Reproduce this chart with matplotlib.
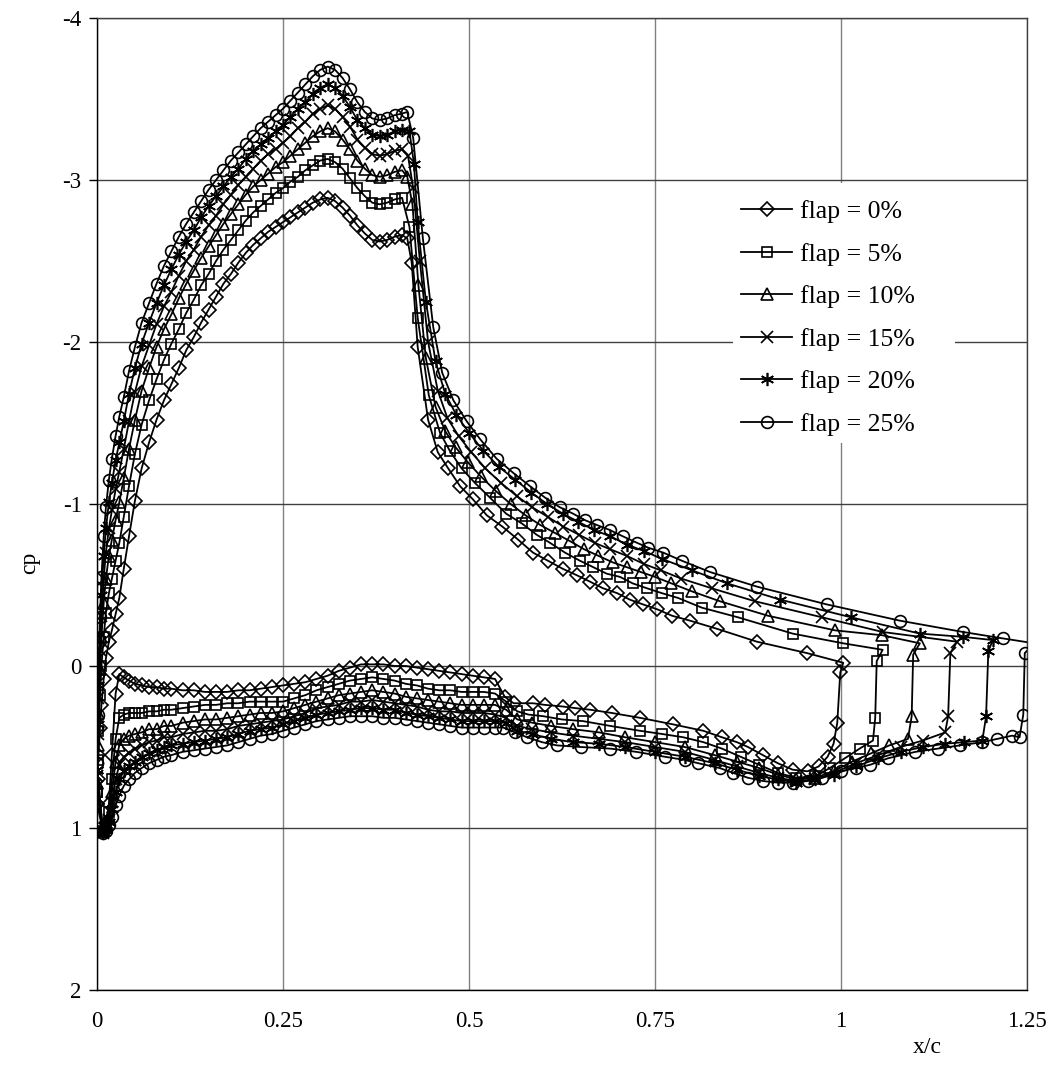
import matplotlib
matplotlib.use("Agg")
import matplotlib.pyplot as plt
from matplotlib.patches import Rectangle

plt.rcParams['font.family'] = ['Liberation Serif', 'DejaVu Serif']
plt.rcParams['axes.unicode_minus'] = False

# ---------------- data ----------------
LABELS = ["flap = 0%", "flap = 5%", "flap = 10%", "flap = 15%", "flap = 20%", "flap = 25%"]

XTICKS = [0, 0.25, 0.5, 0.75, 1, 1.25]
XTICKLABELS = ["0", "0.25", "0.5", "0.75", "1", "1.25"]
YTICKS = [-4, -3, -2, -1, 0, 1, 2]
YTICKLABELS = ["-4", "-3", "-2", "-1", "0", "1", "2"]

# upper surface, main element, stations shared by all series
XU_FRONT = [0.000, 0.001, 0.002, 0.004, 0.006, 0.009, 0.012, 0.016, 0.020, 0.025,
            0.030, 0.036, 0.043, 0.051, 0.060, 0.070, 0.080, 0.090, 0.100, 0.110,
            0.120, 0.130, 0.140, 0.150, 0.160, 0.170, 0.180, 0.190, 0.200, 0.210,
            0.220, 0.230, 0.240, 0.250, 0.260, 0.270, 0.280, 0.290, 0.300, 0.310,
            0.320, 0.330, 0.340, 0.350, 0.360, 0.370, 0.380, 0.390, 0.400, 0.410]

CPU_F0 = [0.85, 0.70, 0.55, 0.38, 0.24, 0.08, -0.05, -0.15, -0.22, -0.32,
          -0.42, -0.60, -0.80, -1.02, -1.22, -1.38, -1.52, -1.64, -1.74, -1.84,
          -1.95, -2.03, -2.12, -2.20, -2.28, -2.36, -2.42, -2.49, -2.55, -2.60,
          -2.64, -2.68, -2.71, -2.74, -2.77, -2.80, -2.83, -2.86, -2.88, -2.89,
          -2.87, -2.83, -2.78, -2.72, -2.67, -2.63, -2.62, -2.63, -2.65, -2.66]
CPU_F5 = [0.78, 0.58, 0.40, 0.18, 0.00, -0.18, -0.33, -0.45, -0.54, -0.65,
          -0.76, -0.92, -1.11, -1.31, -1.49, -1.64, -1.77, -1.89, -1.99, -2.08,
          -2.18, -2.26, -2.35, -2.42, -2.50, -2.57, -2.63, -2.69, -2.75, -2.80,
          -2.84, -2.88, -2.92, -2.95, -2.99, -3.02, -3.06, -3.09, -3.12, -3.13,
          -3.11, -3.07, -3.01, -2.95, -2.90, -2.86, -2.85, -2.86, -2.88, -2.89]
CPU_F10 = [0.72, 0.49, 0.29, 0.02, -0.18, -0.39, -0.54, -0.68, -0.78, -0.90,
           -1.01, -1.16, -1.34, -1.52, -1.70, -1.84, -1.97, -2.08, -2.17, -2.27,
           -2.36, -2.44, -2.52, -2.59, -2.66, -2.73, -2.79, -2.85, -2.91, -2.96,
           -3.00, -3.04, -3.08, -3.11, -3.15, -3.19, -3.23, -3.27, -3.30, -3.32,
           -3.30, -3.25, -3.19, -3.12, -3.07, -3.03, -3.02, -3.03, -3.05, -3.06]
CPU_F15 = [0.68, 0.42, 0.20, -0.10, -0.31, -0.54, -0.70, -0.85, -0.96, -1.09,
           -1.20, -1.34, -1.51, -1.69, -1.85, -1.98, -2.11, -2.22, -2.31, -2.41,
           -2.50, -2.57, -2.65, -2.72, -2.78, -2.85, -2.91, -2.97, -3.02, -3.07,
           -3.12, -3.16, -3.19, -3.23, -3.27, -3.32, -3.36, -3.41, -3.44, -3.46,
           -3.44, -3.39, -3.33, -3.25, -3.20, -3.16, -3.15, -3.16, -3.18, -3.19]
CPU_F20 = [0.64, 0.36, 0.12, -0.20, -0.44, -0.68, -0.85, -1.01, -1.13, -1.27,
           -1.38, -1.51, -1.68, -1.84, -1.99, -2.12, -2.24, -2.35, -2.45, -2.54,
           -2.62, -2.69, -2.77, -2.84, -2.90, -2.96, -3.02, -3.07, -3.13, -3.18,
           -3.22, -3.26, -3.30, -3.34, -3.39, -3.44, -3.48, -3.53, -3.57, -3.59,
           -3.57, -3.52, -3.45, -3.37, -3.32, -3.28, -3.27, -3.28, -3.30, -3.31]
CPU_F25 = [0.60, 0.30, 0.05, -0.30, -0.55, -0.80, -0.98, -1.15, -1.28, -1.42,
           -1.54, -1.66, -1.82, -1.97, -2.12, -2.24, -2.36, -2.47, -2.56, -2.65,
           -2.73, -2.80, -2.87, -2.94, -3.00, -3.06, -3.12, -3.17, -3.22, -3.27,
           -3.32, -3.36, -3.40, -3.44, -3.49, -3.54, -3.59, -3.64, -3.68, -3.70,
           -3.68, -3.63, -3.56, -3.48, -3.42, -3.38, -3.37, -3.38, -3.40, -3.41]

# upper surface, shock + aft part, per series
XU_A0 = [0.417, 0.423, 0.431, 0.445, 0.458, 0.472, 0.488, 0.505, 0.524, 0.545, 0.566, 0.586, 0.606, 0.626,
         0.645, 0.663, 0.680, 0.699, 0.716, 0.734, 0.753, 0.773, 0.797, 0.833, 0.887, 0.954, 1.003]
CPU_A0 = [-2.64, -2.49, -1.97, -1.52, -1.32, -1.22, -1.11, -1.03, -0.93, -0.86, -0.78, -0.70, -0.65, -0.60,
          -0.56, -0.52, -0.48, -0.45, -0.41, -0.38, -0.35, -0.31, -0.28, -0.23, -0.15, -0.08, -0.02]
XU_A5 = [0.420, 0.431, 0.446, 0.461, 0.474, 0.490, 0.508, 0.528, 0.550, 0.571, 0.591, 0.609, 0.629,
         0.649, 0.667, 0.685, 0.703, 0.720, 0.739, 0.759, 0.781, 0.813, 0.862, 0.935, 1.003, 1.056]
CPU_A5 = [-2.71, -2.15, -1.67, -1.44, -1.33, -1.22, -1.13, -1.04, -0.94, -0.88, -0.81, -0.76, -0.70,
          -0.65, -0.61, -0.57, -0.55, -0.51, -0.48, -0.45, -0.42, -0.36, -0.30, -0.20, -0.14, -0.10]
XU_A10 = [0.417, 0.424, 0.432, 0.442, 0.455, 0.468, 0.482, 0.498, 0.516, 0.536, 0.556, 0.576, 0.596, 0.616,
          0.636, 0.655, 0.674, 0.693, 0.712, 0.731, 0.750, 0.772, 0.800, 0.837, 0.902, 0.992, 1.055, 1.106]
CPU_A10 = [-3.02, -2.85, -2.35, -1.90, -1.60, -1.45, -1.35, -1.26, -1.17, -1.08, -1.00, -0.93, -0.87, -0.82,
           -0.77, -0.72, -0.68, -0.64, -0.61, -0.58, -0.55, -0.51, -0.46, -0.40, -0.31, -0.22, -0.19, -0.14]
XU_A15 = [0.418, 0.425, 0.434, 0.445, 0.458, 0.471, 0.486, 0.503, 0.522, 0.543, 0.564, 0.585, 0.606,
          0.627, 0.648, 0.669, 0.690, 0.712, 0.735, 0.758, 0.785, 0.826, 0.884, 0.975, 1.056, 1.156]
CPU_A15 = [-3.15, -2.95, -2.50, -2.00, -1.70, -1.53, -1.42, -1.32, -1.22, -1.13, -1.05, -0.98, -0.92,
           -0.86, -0.81, -0.76, -0.72, -0.68, -0.63, -0.59, -0.54, -0.48, -0.40, -0.30, -0.21, -0.15]
XU_A20 = [0.420, 0.426, 0.431, 0.442, 0.455, 0.468, 0.483, 0.500, 0.519, 0.540, 0.562, 0.584, 0.605, 0.626,
          0.647, 0.668, 0.690, 0.712, 0.735, 0.760, 0.800, 0.847, 0.918, 1.014, 1.106, 1.164, 1.204]
CPU_A20 = [-3.30, -3.10, -2.74, -2.25, -1.88, -1.68, -1.55, -1.44, -1.33, -1.23, -1.15, -1.07, -1.00, -0.94,
           -0.89, -0.84, -0.80, -0.75, -0.71, -0.66, -0.59, -0.51, -0.41, -0.30, -0.20, -0.18, -0.16]
XU_A25 = [0.417, 0.425, 0.438, 0.452, 0.464, 0.479, 0.497, 0.515, 0.537, 0.560, 0.582, 0.602, 0.622, 0.640,
          0.656, 0.672, 0.689, 0.707, 0.726, 0.741, 0.761, 0.786, 0.824, 0.887, 0.981, 1.079, 1.164, 1.218, 1.260]
CPU_A25 = [-3.42, -3.26, -2.64, -2.09, -1.81, -1.64, -1.51, -1.40, -1.28, -1.19, -1.11, -1.04, -0.98, -0.94,
           -0.90, -0.87, -0.84, -0.80, -0.76, -0.73, -0.70, -0.65, -0.58, -0.49, -0.38, -0.28, -0.21, -0.17, -0.14]

# trailing-edge points (top to bottom)
XTE0, CPTE0 = [0.999, 0.995], [0.04, 0.35]
XTE5, CPTE5 = [1.048, 1.046], [-0.03, 0.32]
XTE10, CPTE10 = [1.097, 1.095], [-0.07, 0.31]
XTE15, CPTE15 = [1.147, 1.144], [-0.08, 0.31]
XTE20, CPTE20 = [1.198, 1.195], [-0.09, 0.31]
XTE25, CPTE25 = [1.247, 1.245], [-0.08, 0.30]

# lower surface, main element, stations shared by all series
XL_FRONT = [0.008, 0.012, 0.016, 0.020, 0.025, 0.030, 0.036, 0.043, 0.051, 0.060,
            0.070, 0.080, 0.090, 0.100, 0.115, 0.130, 0.145, 0.160, 0.175, 0.190,
            0.205, 0.220, 0.235, 0.250, 0.265, 0.280, 0.295, 0.310, 0.325, 0.340,
            0.355, 0.370, 0.385, 0.400, 0.415, 0.430, 0.445, 0.460, 0.475, 0.490,
            0.505, 0.520, 0.535]
CPL_F0 = [1.02, 0.97, 0.85, 0.55, 0.17, 0.05, 0.07, 0.09, 0.11, 0.12,
          0.13, 0.13, 0.14, 0.14, 0.15, 0.15, 0.16, 0.16, 0.16, 0.15,
          0.15, 0.14, 0.13, 0.12, 0.11, 0.10, 0.08, 0.06, 0.03, 0.01,
          -0.01, -0.01, -0.01, 0.00, 0.00, 0.01, 0.02, 0.03, 0.04, 0.05,
          0.06, 0.07, 0.08]
CPL_F5 = [1.02, 0.98, 0.90, 0.70, 0.45, 0.32, 0.30, 0.29, 0.29, 0.29,
          0.28, 0.28, 0.27, 0.27, 0.26, 0.25, 0.24, 0.24, 0.23, 0.23,
          0.22, 0.22, 0.22, 0.22, 0.20, 0.18, 0.15, 0.13, 0.11, 0.09,
          0.08, 0.07, 0.08, 0.09, 0.11, 0.12, 0.14, 0.15, 0.15, 0.16,
          0.16, 0.16, 0.17]
CPL_F10 = [1.02, 0.99, 0.93, 0.78, 0.59, 0.49, 0.45, 0.43, 0.42, 0.41,
           0.39, 0.39, 0.37, 0.37, 0.35, 0.34, 0.33, 0.33, 0.32, 0.31,
           0.30, 0.29, 0.29, 0.28, 0.26, 0.24, 0.22, 0.20, 0.18, 0.17,
           0.16, 0.15, 0.16, 0.17, 0.19, 0.20, 0.21, 0.22, 0.23, 0.24,
           0.24, 0.24, 0.24]
CPL_F15 = [1.03, 1.00, 0.95, 0.84, 0.70, 0.61, 0.56, 0.54, 0.51, 0.49,
           0.47, 0.46, 0.44, 0.44, 0.42, 0.41, 0.40, 0.40, 0.39, 0.37,
           0.36, 0.35, 0.34, 0.33, 0.31, 0.29, 0.26, 0.25, 0.24, 0.22,
           0.22, 0.21, 0.22, 0.23, 0.24, 0.25, 0.27, 0.28, 0.28, 0.29,
           0.29, 0.29, 0.30]
CPL_F20 = [1.03, 1.01, 0.96, 0.88, 0.78, 0.70, 0.65, 0.62, 0.59, 0.56,
           0.54, 0.52, 0.50, 0.49, 0.48, 0.47, 0.46, 0.45, 0.44, 0.42,
           0.40, 0.39, 0.38, 0.36, 0.34, 0.32, 0.30, 0.29, 0.28, 0.27,
           0.26, 0.26, 0.27, 0.27, 0.29, 0.30, 0.31, 0.32, 0.33, 0.34,
           0.34, 0.34, 0.34]
CPL_F25 = [1.03, 1.02, 0.98, 0.93, 0.86, 0.80, 0.74, 0.70, 0.66, 0.63,
           0.60, 0.58, 0.56, 0.55, 0.53, 0.52, 0.51, 0.50, 0.49, 0.47,
           0.45, 0.43, 0.42, 0.40, 0.38, 0.36, 0.34, 0.33, 0.32, 0.31,
           0.31, 0.31, 0.32, 0.32, 0.33, 0.34, 0.35, 0.36, 0.37, 0.38,
           0.38, 0.38, 0.38]

# lower surface, aft part + flap, per series
XL_A0 = [0.548, 0.560, 0.586, 0.602, 0.626, 0.643, 0.663, 0.692, 0.730, 0.774, 0.815,
         0.840, 0.860, 0.875, 0.895, 0.915, 0.935, 0.955, 0.970, 0.982, 0.990]
CPL_A0 = [0.19, 0.23, 0.23, 0.24, 0.25, 0.26, 0.27, 0.29, 0.32, 0.36, 0.40,
          0.44, 0.47, 0.50, 0.55, 0.60, 0.64, 0.65, 0.62, 0.56, 0.48]
XL_A5 = [0.550, 0.565, 0.580, 0.600, 0.625, 0.653, 0.690, 0.730, 0.760, 0.788, 0.815,
         0.840, 0.865, 0.890, 0.915, 0.940, 0.965, 0.985, 1.005, 1.025, 1.043]
CPL_A5 = [0.22, 0.28, 0.30, 0.31, 0.33, 0.34, 0.37, 0.40, 0.42, 0.44, 0.47,
          0.51, 0.56, 0.61, 0.66, 0.69, 0.68, 0.63, 0.57, 0.51, 0.46]
XL_A10 = [0.550, 0.565, 0.585, 0.610, 0.640, 0.675, 0.710, 0.750, 0.790, 0.830,
          0.860, 0.890, 0.915, 0.940, 0.965, 0.990, 1.015, 1.040, 1.065, 1.090]
CPL_A10 = [0.27, 0.33, 0.35, 0.37, 0.39, 0.41, 0.44, 0.47, 0.50, 0.55,
           0.59, 0.63, 0.67, 0.70, 0.69, 0.65, 0.59, 0.54, 0.49, 0.45]
XL_A15 = [0.550, 0.565, 0.585, 0.610, 0.640, 0.675, 0.710, 0.750, 0.790, 0.830, 0.860,
          0.890, 0.915, 0.940, 0.965, 0.990, 1.020, 1.050, 1.080, 1.110, 1.140]
CPL_A15 = [0.32, 0.37, 0.39, 0.41, 0.43, 0.45, 0.47, 0.50, 0.53, 0.58, 0.62,
           0.66, 0.69, 0.71, 0.70, 0.66, 0.60, 0.55, 0.50, 0.46, 0.41]
XL_A20 = [0.550, 0.565, 0.585, 0.610, 0.640, 0.675, 0.710, 0.750, 0.790, 0.830, 0.860, 0.890,
          0.915, 0.940, 0.965, 0.990, 1.020, 1.050, 1.080, 1.110, 1.140, 1.165, 1.190]
CPL_A20 = [0.35, 0.40, 0.42, 0.45, 0.47, 0.48, 0.50, 0.53, 0.56, 0.60, 0.64, 0.68,
           0.70, 0.72, 0.70, 0.67, 0.62, 0.57, 0.53, 0.50, 0.48, 0.47, 0.46]
XL_A25 = [0.546, 0.562, 0.578, 0.598, 0.618, 0.650, 0.690, 0.725, 0.763, 0.790, 0.808, 0.837, 0.855,
          0.875, 0.895, 0.915, 0.935, 0.955, 0.975, 1.000, 1.020, 1.039, 1.063, 1.100, 1.130, 1.160,
          1.190, 1.210, 1.230, 1.240]
CPL_A25 = [0.38, 0.41, 0.44, 0.47, 0.49, 0.50, 0.51, 0.53, 0.56, 0.58, 0.60, 0.63, 0.66,
           0.69, 0.71, 0.72, 0.72, 0.71, 0.69, 0.65, 0.63, 0.61, 0.57, 0.53, 0.51, 0.49,
           0.47, 0.45, 0.43, 0.44]

SERIES = [
    (CPU_F0, XU_A0, CPU_A0, XTE0, CPTE0, CPL_F0, XL_A0, CPL_A0),
    (CPU_F5, XU_A5, CPU_A5, XTE5, CPTE5, CPL_F5, XL_A5, CPL_A5),
    (CPU_F10, XU_A10, CPU_A10, XTE10, CPTE10, CPL_F10, XL_A10, CPL_A10),
    (CPU_F15, XU_A15, CPU_A15, XTE15, CPTE15, CPL_F15, XL_A15, CPL_A15),
    (CPU_F20, XU_A20, CPU_A20, XTE20, CPTE20, CPL_F20, XL_A20, CPL_A20),
    (CPU_F25, XU_A25, CPU_A25, XTE25, CPTE25, CPL_F25, XL_A25, CPL_A25),
]

# ---------------- styles ----------------
MARKERS = ['D', 's', '^', 'x', (6, 2, 0), 'o']
MSIZES = [7.5, 7.5, 8.5, 8.5, 9.5, 8.5]

fig = plt.figure(figsize=(10.56, 10.70), dpi=100)
ax = fig.add_axes([97 / 1056, 1 - 990 / 1070, 930 / 1056, 972 / 1070])

for i, (cuf, xua, cua, xte, cte, clf, xla, cla) in enumerate(SERIES):
    xs = list(XU_FRONT) + list(xua) + list(xte) + list(reversed(list(XL_FRONT) + list(xla)))
    ys = list(cuf) + list(cua) + list(cte) + list(reversed(list(clf) + list(cla)))
    xs.append(xs[0])
    ys.append(ys[0])
    ax.plot(xs, ys, color='black', lw=1.3, marker=MARKERS[i], ms=MSIZES[i],
            mfc='none', mec='black', mew=1.2, label=LABELS[i], zorder=3 + i * 0.01)

ax.set_xlim(0, 1.25)
ax.set_ylim(2, -4)
ax.set_xticks(XTICKS)
ax.set_xticklabels(XTICKLABELS)
ax.set_yticks(YTICKS)
ax.set_yticklabels(YTICKLABELS)
ax.tick_params(axis='x', length=0, pad=15, labelsize=16.5)
ax.tick_params(axis='y', length=6, width=1, direction='out', pad=5, labelsize=16.5)

ax.set_axisbelow(True)
ax.grid(True, axis='y', color='#404040', lw=1.0)
ax.grid(True, axis='x', color='#808080', lw=1.0)
for s in ['top', 'right']:
    ax.spines[s].set_color('#404040')
    ax.spines[s].set_linewidth(1.0)
for s in ['left', 'bottom']:
    ax.spines[s].set_color('black')
    ax.spines[s].set_linewidth(1.0)

ax.set_xlabel('x/c', fontsize=17)
ax.xaxis.set_label_coords((927 - 97) / 930, -(1037 - 990) / 972)
ax.set_ylabel('cp', fontsize=17)
ax.yaxis.set_label_coords((40 - 97) / 930, 1 - (563 - 18) / 972)

# white legend background
ax.add_patch(Rectangle(((733 - 97) / 930, 1 - (443 - 18) / 972), (955 - 733) / 930, (443 - 183) / 972,
                       transform=ax.transAxes, facecolor='white', edgecolor='none', zorder=1))

leg = ax.legend(loc='upper left', bbox_to_anchor=((741 - 97) / 930, 1 - (200 - 18) / 972),
                frameon=False, fontsize=18.5, handlelength=2.0, handletextpad=0.3,
                labelspacing=0.76, borderpad=0, borderaxespad=0)
leg.set_zorder(5)

fig.savefig('out.png', dpi=100)
